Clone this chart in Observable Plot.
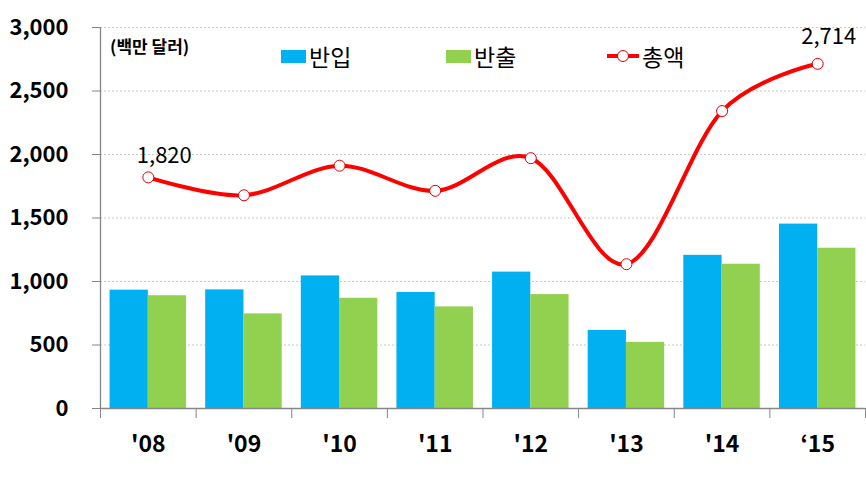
<!DOCTYPE html>
<html>
<head>
<meta charset="utf-8">
<script src="https://cdn.jsdelivr.net/npm/d3@7"></script>
<script src="https://cdn.jsdelivr.net/npm/@observablehq/plot@0.6"></script>
<style>
  html, body { margin: 0; padding: 0; background: #fff; }
  #wrap { position: relative; width: 866px; height: 477px; font-family: "Malgun Gothic", "Noto Sans CJK KR", sans-serif; }
  .unit { position: absolute; left: 110px; top: 34px; font-size: 17px; font-weight: bold; color: #000; line-height: 24px; white-space: nowrap; }
  .leg { position: absolute; top: 41px; height: 30px; display: flex; align-items: center; font-size: 23px; color: #000; white-space: nowrap; }
  .sw { display: inline-block; width: 25px; height: 13px; margin-right: 3px; }
  .leg svg { margin-right: 2px; }
</style>
</head>
<body>
<div id="wrap"></div>
<script>
const years = ["'08", "'09", "'10", "'11", "'12", "'13", "'14", "\u201815"];
const imports = [932, 934, 1044, 914, 1074, 615, 1206, 1452];
const exportsV = [888, 745, 868, 800, 897, 521, 1136, 1262];
const totals = [1820, 1679, 1912, 1714, 1971, 1136, 2342, 2714];
const yTicks = [0, 500, 1000, 1500, 2000, 2500, 3000];
const seriesNames = ["반입", "반출", "총액"];
const unitLabel = "(백만 달러)";

const colors = { imp: "#00B0F0", exp: "#92D050", total: "#FF0000" };

const rows = years.map((label, i) => ({ i, label, imp: imports[i], exp: exportsV[i], total: totals[i] }));
const boundaries = d3.range(-0.5, years.length, 1);
const fmt = d3.format(",");

const chart = Plot.plot({
  width: 866,
  height: 477,
  marginLeft: 100,
  marginRight: 1,
  marginTop: 27,
  marginBottom: 69,
  style: { fontFamily: "'Malgun Gothic', 'Noto Sans CJK KR', sans-serif", color: "#000", background: "#fff" },
  x: { type: "linear", domain: [-0.5, years.length - 0.5] },
  y: { domain: [0, 3000] },
  marks: [
    Plot.ruleY(yTicks.filter(d => d > 0), { stroke: "#C8C8C8", strokeDasharray: "2,2" }),
    Plot.rectY(rows, { x1: d => d.i - 0.4, x2: d => d.i, y: "imp", fill: colors.imp }),
    Plot.rectY(rows, { x1: d => d.i, x2: d => d.i + 0.4, y: "exp", fill: colors.exp }),
    Plot.ruleY([0], { stroke: "#868686", strokeWidth: 1.3 }),
    Plot.ruleX([-0.5], { y1: 0, y2: 3000, stroke: "#868686", strokeWidth: 1.3 }),
    Plot.axisY({ ticks: yTicks, tickSize: 8, tickPadding: 24, tickFormat: fmt, stroke: "#868686", fill: "#000", fontSize: 22, fontWeight: "bold", label: null }),
    Plot.axisX({ ticks: boundaries, tickSize: 10, tickFormat: () => "", stroke: "#868686", label: null }),
    Plot.axisX({ ticks: d3.range(years.length), tickSize: 0, tickPadding: 27, tickFormat: i => years[i], fill: "#000", fontSize: 23, fontWeight: "bold", label: null }),
    Plot.line(rows, { x: "i", y: "total", curve: "cardinal", tension: 0, stroke: colors.total, strokeWidth: 4 }),
    Plot.dot(rows, { x: "i", y: "total", r: 5.5, fill: "white", stroke: "#E00000", strokeWidth: 1 }),
    Plot.text(rows.filter(d => d.i === 0), { x: "i", y: "total", text: d => fmt(d.total), dx: 16, dy: -21, fontSize: 22, fill: "#000" }),
    Plot.text(rows.filter(d => d.i === years.length - 1), { x: "i", y: "total", text: d => fmt(d.total), dx: 11, dy: -27, fontSize: 22, fill: "#000" })
  ]
});

const wrap = document.getElementById("wrap");
wrap.appendChild(chart);

const unit = document.createElement("div");
unit.className = "unit";
unit.textContent = unitLabel;
wrap.appendChild(unit);

const legendItems = [
  { name: seriesNames[0], kind: "rect", color: colors.imp, left: 281 },
  { name: seriesNames[1], kind: "rect", color: colors.exp, left: 446 },
  { name: seriesNames[2], kind: "line", color: colors.total, left: 606 }
];
for (const it of legendItems) {
  const d = document.createElement("div");
  d.className = "leg";
  d.style.left = it.left + "px";
  if (it.kind === "rect") {
    const s = document.createElement("span");
    s.className = "sw";
    s.style.background = it.color;
    d.appendChild(s);
  } else {
    const ns = "http://www.w3.org/2000/svg";
    const svg = document.createElementNS(ns, "svg");
    svg.setAttribute("width", "34");
    svg.setAttribute("height", "14");
    const ln = document.createElementNS(ns, "line");
    ln.setAttribute("x1", "1"); ln.setAttribute("x2", "33");
    ln.setAttribute("y1", "7"); ln.setAttribute("y2", "7");
    ln.setAttribute("stroke", it.color); ln.setAttribute("stroke-width", "4");
    svg.appendChild(ln);
    const c = document.createElementNS(ns, "circle");
    c.setAttribute("cx", "17"); c.setAttribute("cy", "7"); c.setAttribute("r", "5.5");
    c.setAttribute("fill", "white"); c.setAttribute("stroke", "#E00000"); c.setAttribute("stroke-width", "1");
    svg.appendChild(c);
    d.appendChild(svg);
  }
  const t = document.createElement("span");
  t.textContent = it.name;
  d.appendChild(t);
  wrap.appendChild(d);
}
</script>
</body>
</html>
